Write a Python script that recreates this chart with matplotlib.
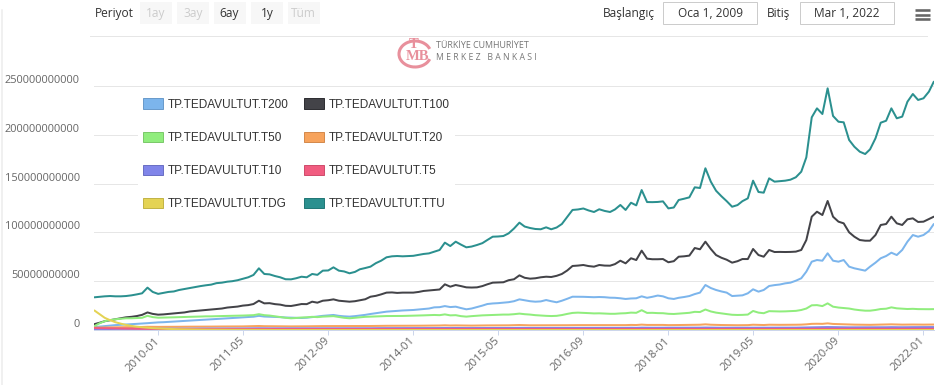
import matplotlib
matplotlib.use('Agg')
import matplotlib.pyplot as plt
from matplotlib.patches import Patch, Rectangle, Arc
from matplotlib.lines import Line2D
from matplotlib.ticker import FuncFormatter
import pandas as pd

# ---------------- data (billions TL, monthly from 2009-01) ----------------
start_month = '2009-01-01'

t200 = [3, 3.5, 4, 4.5, 5, 5.3, 5.6, 6, 6.3, 6.6,
        7, 7.4, 7.8, 8, 8.3, 8.6, 9, 9.3, 9.7, 10,
        10.3, 10.6, 11, 11.3, 11.6, 12, 12.3, 12.6, 13, 13.3,
        13.6, 14.5, 13.8, 13.6, 13.4, 13.2, 12.8, 12.7, 12.5, 12.3,
        12.6, 13.2, 13.8, 14.5, 15, 15.4, 14.5, 14, 13.7, 14.2,
        14.8, 15.5, 16.4, 17.2, 18, 18.8, 19.2, 19.5, 20, 20.2,
        20.5, 21, 21.5, 22, 23.2, 23.4, 24.5, 23.5, 23.9, 22.5,
        21.2, 22, 23.5, 25, 26.6, 27.2, 27.5, 28, 28.5, 29.5,
        31.4, 30.5, 29.5, 29, 29.3, 30.7, 29.5, 28.4, 30, 32,
        34.1, 34.1, 34, 33.8, 33.6, 33.8, 33.6, 33.1, 33, 32.5,
        31.8, 32.3, 32.5, 34.5, 33, 34, 35.3, 34.5, 32.5, 31.8,
        33, 33.8, 34.8, 36.8, 38.3, 46.1, 43, 41, 39.5, 38.3,
        34.8, 35.2, 35.5, 37.6, 41.7, 39.3, 41, 45.1, 46, 46.6,
        47.8, 48.5, 50.5, 53, 59.8, 70, 71.7, 71, 78.6, 71,
        70, 71.7, 64.9, 63.2, 62, 60.8, 64.9, 69, 73.5, 75.8,
        79.2, 76.8, 82, 90.5, 97.3, 95.6, 97.3, 101.4, 108.6]

t100 = [6, 7.5, 9, 10, 11, 12, 13, 13.5, 14.3, 15.5,
        18, 16.5, 15.7, 16, 16.5, 17, 17.5, 18, 19, 19.5,
        20, 20.5, 21, 21.5, 22, 23, 23.5, 24, 25, 25.5,
        26.6, 30, 27.3, 27.5, 26.5, 26, 24.8, 24.6, 25.5, 26.6,
        26.5, 29, 28, 30, 30.5, 31.4, 30, 29.5, 29, 29.5,
        30.5, 31.5, 34.1, 35, 36.5, 38.3, 38.5, 38, 38.3, 38.3,
        38.3, 39, 40, 40.5, 41, 41.5, 46.8, 44.4, 46.1, 45,
        43.7, 43.5, 43.7, 45, 46.8, 48.5, 48.7, 48.9, 51, 52,
        56, 53.5, 52.6, 53, 54, 54.6, 54.3, 55.5, 57.4, 61,
        65.6, 66, 66.6, 65.5, 64.9, 66.6, 66, 65.9, 67.5, 71,
        68.3, 73.5, 71.7, 81.3, 73.1, 72.5, 72.5, 72.7, 69.4, 70.5,
        75.1, 75.5, 76.2, 84, 82.7, 90.5, 83, 76.8, 74, 72,
        69, 70.5, 72.7, 72.7, 83, 76.8, 75.1, 82, 79.9, 80,
        79.9, 80, 80.3, 82, 92.2, 116.1, 121.2, 117.8, 132.2, 116.1,
        111, 109.3, 100.1, 95.6, 92.2, 91.5, 91.5, 97.3, 107.6, 108.6,
        116.1, 109.3, 107.6, 113.4, 114.4, 110.7, 111, 113.7, 116.1]

t50 = [4, 7, 9, 10.2, 11, 11.5, 12, 12, 12.2, 12.5,
       14.5, 13.2, 12.6, 12.7, 12.8, 13, 13.2, 13.4, 13.5, 13.6,
       13.8, 14, 14, 14.2, 14.3, 14.4, 14.5, 14.6, 14.8, 15,
       15.2, 16.2, 15.2, 14.8, 14, 13.2, 12.5, 12, 12.3, 12.8,
       13, 13.5, 13.2, 13.7, 14, 14.2, 13.3, 12.5, 12, 12.5,
       13, 13.5, 13.7, 14, 14.2, 14.3, 14.3, 14.4, 14.4, 14.6,
       14.7, 14.8, 15, 15.2, 15.4, 15.2, 16, 15, 15.2, 14.2,
       13.7, 14.2, 14.6, 15, 15.2, 15.5, 15.6, 15.8, 15.8, 16.2,
       16.8, 16.2, 15.8, 15.2, 14.8, 14.5, 14.3, 14.5, 15.3, 16.5,
       17.5, 17.8, 17.6, 17.3, 17, 17.1, 16.8, 16.6, 16.6, 17,
       17.2, 17.8, 17.6, 20.3, 17.5, 17.6, 17.3, 17.2, 16.6, 16.4,
       16.8, 17.3, 17.6, 18.6, 18.4, 21, 19, 17.8, 17, 16.3,
       15.6, 15.4, 15.5, 15.8, 19.5, 17.8, 17.2, 19.3, 19.1, 19,
       19.1, 19.4, 19.6, 20.5, 22, 25.3, 25.5, 24.5, 27.3, 23.9,
       23, 22.5, 22, 21, 20.3, 19.8, 19.8, 20.5, 21.5, 21.8,
       23.2, 22.2, 21.8, 21.5, 21.7, 21.4, 21.3, 21.3, 21.4]

t20 = [2.4, 2.5, 2.6, 2.7, 2.8, 2.9, 3.0, 3.0, 3.1, 3.1, 3.3, 3.2,
       3.2, 3.2, 3.3, 3.3, 3.3, 3.4, 3.4, 3.4, 3.5, 3.5, 3.5, 3.6,
       3.6, 3.6, 3.7, 3.7, 3.7, 3.8, 3.8, 4.1, 3.9, 3.9, 3.8, 3.8,
       3.7, 3.7, 3.7, 3.8, 3.8, 3.9, 3.9, 4.0, 4.0, 4.1, 4.0, 4.0,
       3.9, 4.0, 4.0, 4.1, 4.1, 4.2, 4.2, 4.3, 4.3, 4.3, 4.3, 4.4,
       4.4, 4.4, 4.5, 4.5, 4.5, 4.6, 4.8, 4.6, 4.7, 4.6, 4.5, 4.5,
       4.6, 4.6, 4.7, 4.7, 4.8, 4.8, 4.8, 4.9, 5.1, 4.9, 4.8, 4.8,
       4.7, 4.7, 4.7, 4.7, 4.8, 4.9, 5.0, 5.0, 5.0, 5.0, 4.9, 5.0,
       5.0, 4.9, 5.0, 5.1, 5.0, 5.2, 5.1, 5.5, 5.2, 5.2, 5.2, 5.2,
       5.0, 5.0, 5.1, 5.2, 5.2, 5.4, 5.4, 5.8, 5.4, 5.2, 5.1, 5.0,
       4.9, 4.9, 5.0, 5.0, 5.4, 5.2, 5.1, 5.4, 5.3, 5.3, 5.3, 5.3,
       5.4, 5.5, 5.8, 6.3, 6.4, 6.3, 6.8, 6.2, 6.0, 5.9, 5.7, 5.5,
       5.4, 5.3, 5.3, 5.4, 5.6, 5.6, 5.8, 5.6, 5.5, 5.6, 5.6, 5.5,
       5.5, 5.5, 5.6]

t10 = [0.8, 0.9, 1.0, 1.0, 1.1, 1.1, 1.2, 1.2, 1.2, 1.3, 1.4, 1.3,
       1.3, 1.3, 1.3, 1.4, 1.4, 1.4, 1.4, 1.5, 1.5, 1.5, 1.5, 1.5,
       1.6, 1.6, 1.6, 1.6, 1.6, 1.7, 1.7, 1.8, 1.7, 1.7, 1.7, 1.7,
       1.6, 1.6, 1.6, 1.7, 1.7, 1.7, 1.7, 1.8, 1.8, 1.8, 1.8, 1.8,
       1.7, 1.8, 1.8, 1.8, 1.8, 1.9, 1.9, 1.9, 1.9, 1.9, 1.9, 1.9,
       1.9, 1.9, 2.0, 2.0, 2.0, 2.0, 2.1, 2.0, 2.1, 2.0, 2.0, 2.0,
       2.0, 2.0, 2.0, 2.1, 2.1, 2.1, 2.1, 2.1, 2.2, 2.1, 2.1, 2.1,
       2.1, 2.1, 2.1, 2.1, 2.1, 2.2, 2.2, 2.2, 2.2, 2.2, 2.2, 2.2,
       2.2, 2.2, 2.2, 2.2, 2.2, 2.3, 2.2, 2.4, 2.3, 2.3, 2.3, 2.3,
       2.2, 2.2, 2.3, 2.3, 2.3, 2.4, 2.4, 2.5, 2.4, 2.3, 2.3, 2.3,
       2.2, 2.2, 2.3, 2.3, 2.4, 2.3, 2.3, 2.4, 2.4, 2.4, 2.4, 2.4,
       2.4, 2.5, 2.6, 2.8, 2.9, 2.9, 3.0, 2.9, 2.8, 2.8, 2.7, 2.7,
       2.6, 2.6, 2.6, 2.7, 2.8, 2.8, 2.9, 2.8, 2.8, 2.9, 2.9, 2.9,
       2.9, 2.9, 3.0]

t5 = [2.0, 1.9, 1.8, 1.7, 1.6, 1.5, 1.4, 1.3, 1.3, 1.2, 1.2, 1.1,
      1.1, 1.0, 1.0, 1.0, 0.9, 0.9, 0.9, 0.9, 0.9, 0.9, 0.9, 0.9,
      0.9, 0.9, 0.9, 0.9, 0.9, 0.9, 0.9, 1.0, 0.9, 0.9, 0.9, 0.9,
      0.9, 0.9, 0.9, 0.9, 0.9, 0.9, 0.9, 0.9, 0.9, 1.0, 0.9, 0.9,
      0.9, 0.9, 0.9, 0.9, 0.9, 0.9, 0.9, 0.9, 0.9, 0.9, 0.9, 0.9,
      0.9, 0.9, 0.9, 0.9, 0.9, 0.9, 1.0, 0.9, 0.9, 0.9, 0.9, 0.9,
      0.9, 0.9, 0.9, 0.9, 0.9, 0.9, 0.9, 0.9, 1.0, 0.9, 0.9, 0.9,
      0.9, 0.9, 0.9, 0.9, 0.9, 0.9, 0.9, 0.9, 0.9, 0.9, 0.9, 0.9,
      0.9, 0.9, 0.9, 0.9, 0.9, 0.9, 0.9, 1.0, 0.9, 0.9, 0.9, 0.9,
      0.9, 0.9, 0.9, 0.9, 0.9, 0.9, 0.9, 1.0, 0.9, 0.9, 0.9, 0.9,
      0.9, 0.9, 0.9, 0.9, 1.0, 0.9, 0.9, 1.0, 1.0, 1.0, 1.0, 1.0,
      1.0, 1.0, 1.1, 1.2, 1.2, 1.2, 1.3, 1.2, 1.2, 1.2, 1.1, 1.1,
      1.1, 1.1, 1.1, 1.1, 1.2, 1.2, 1.2, 1.2, 1.2, 1.2, 1.2, 1.2,
      1.2, 1.2, 1.2]

tdg = [20.0, 16.0, 12.5, 10.0, 8.0, 6.5, 5.2, 4.2, 3.4, 2.8, 2.3, 1.9,
       1.6, 1.3, 1.1, 0.9, 0.8, 0.7, 0.6, 0.5, 0.5, 0.4, 0.4, 0.3,
       0.3, 0.2, 0.2, 0.2, 0.1, 0.1, 0.1, 0.1, 0.1, 0.0, 0.0, 0.0,
       0.0, 0.0, 0.0, 0.0, 0.0, 0.0, 0.0, 0.0, 0.0, 0.0, 0.0, 0.0,
       0.0, 0.0, 0.0, 0.0, 0.0, 0.0, 0.0, 0.0, 0.0, 0.0, 0.0, 0.0,
       0.0, 0.0, 0.0, 0.0, 0.0, 0.0, 0.0, 0.0, 0.0, 0.0, 0.0, 0.0,
       0.0, 0.0, 0.0, 0.0, 0.0, 0.0, 0.0, 0.0, 0.0, 0.0, 0.0, 0.0,
       0.0, 0.0, 0.0, 0.0, 0.0, 0.0, 0.0, 0.0, 0.0, 0.0, 0.0, 0.0,
       0.0, 0.0, 0.0, 0.0, 0.0, 0.0, 0.0, 0.0, 0.0, 0.0, 0.0, 0.0,
       0.0, 0.0, 0.0, 0.0, 0.0, 0.0, 0.0, 0.0, 0.0, 0.0, 0.0, 0.0,
       0.0, 0.0, 0.0, 0.0, 0.0, 0.0, 0.0, 0.0, 0.0, 0.0, 0.0, 0.0,
       0.0, 0.0, 0.0, 0.0, 0.0, 0.0, 0.0, 0.0, 0.0, 0.0, 0.0, 0.0,
       0.0, 0.0, 0.0, 0.0, 0.0, 0.0, 0.0, 0.0, 0.0, 0.0, 0.0, 0.0,
       0.0, 0.0, 0.0]

ttu = [33.5, 34.0, 34.5, 34.8, 34.5, 34.5, 34.8, 35.5, 36.5, 37.6,
       43.4, 39.0, 37.0, 38.0, 39.0, 39.5, 41.0, 42.0, 43.0, 44.0,
       45.0, 45.8, 46.5, 48.0, 48.5, 49.5, 50.0, 51.0, 52.5, 54.0,
       56.4, 63.2, 57.4, 57.0, 55.3, 54.0, 52.0, 51.9, 53.0, 54.6,
       54.0, 57.4, 56.5, 60.8, 61.0, 64.2, 60.8, 60.0, 58.1, 59.5,
       62.2, 63.5, 64.9, 68.5, 71.0, 74.5, 75.5, 75.8, 75.5, 75.8,
       76.0, 77.0, 77.9, 78.5, 80.2, 82.0, 89.5, 86.0, 90.5, 87.5,
       84.7, 85.5, 87.1, 89.0, 92.2, 95.6, 95.8, 96.3, 99.0, 104.0,
       110.0, 106.0, 104.5, 103.5, 103.2, 105.2, 103.2, 105.0, 108.6, 116.0,
       123.0, 123.5, 124.5, 122.5, 120.9, 123.7, 122.0, 120.9, 123.5, 128.1,
       123.0, 130.4, 127.7, 143.4, 131.1, 131.0, 131.2, 131.8, 124.6, 125.5,
       133.2, 134.5, 135.9, 146.2, 145.5, 165.7, 152.0, 142.7, 137.0, 132.0,
       126.3, 128.0, 132.0, 134.9, 153.0, 141.4, 140.7, 155.4, 152.0, 152.5,
       153.0, 154.0, 156.5, 162.2, 176.9, 217.9, 227.1, 221.3, 247.6, 219.3,
       213.4, 212.8, 194.7, 187.8, 182.7, 180.3, 185.1, 196.4, 212.4, 214.4,
       227.1, 216.9, 218.6, 233.9, 241.8, 235.7, 237.4, 244.2, 254.4]

series_names = ['TP.TEDAVULTUT.T200', 'TP.TEDAVULTUT.T100', 'TP.TEDAVULTUT.T50',
                'TP.TEDAVULTUT.T20', 'TP.TEDAVULTUT.T10', 'TP.TEDAVULTUT.T5',
                'TP.TEDAVULTUT.TDG', 'TP.TEDAVULTUT.TTU']
series_values = [t200, t100, t50, t20, t10, t5, tdg, ttu]
series_colors = ['#7cb5ec', '#434348', '#90ed7d', '#f7a35c',
                 '#8085e9', '#f15c80', '#e4d354', '#2b908f']
legend_edges = ['#6a9bcb', '#2f2f33', '#7cc96b', '#d48a4d',
                '#6b70c4', '#cf4e6d', '#c2b447', '#237877']

xtick_labels = ['2010-01', '2011-05', '2012-09', '2014-01', '2015-05',
                '2016-09', '2018-01', '2019-05', '2020-09', '2022-01']
ytick_values = [0, 50e9, 100e9, 150e9, 200e9, 250e9]

period_buttons = ['1ay', '3ay', '6ay', '1y', 'Tüm']
period_enabled = [False, False, True, True, False]

# ---------------- figure ----------------
W, H = 935, 385
plt.rcParams['font.family'] = ['Open Sans', 'DejaVu Sans']
fig = plt.figure(figsize=(W / 100, H / 100), dpi=100)
fig.patch.set_facecolor('white')

def fx(x):
    return x / W

def fy(y):
    return 1 - y / H

PX = 0.72  # one pixel in points

ax = fig.add_axes([fx(94.4), fy(330), (933.8 - 94.4) / W, 255 / H])
ax.set_facecolor('white')

dates = pd.date_range(start_month, periods=len(ttu), freq='MS')
for name, vals, col in zip(series_names, series_values, series_colors):
    d = dates[:len(vals)]
    ax.plot(d, [v * 1e9 for v in vals], color=col, lw=2 * PX,
            solid_joinstyle='round', solid_capstyle='round', label=name)

ax.set_xlim(dates[0], dates[-1])
ax.set_ylim(0, 250e9 * 255 / 244)

ax.set_yticks(ytick_values)
ax.yaxis.set_major_formatter(FuncFormatter(lambda v, p: f'{int(round(v))}'))
ax.grid(axis='y', color='#e6e6e6', lw=PX)
ax.set_axisbelow(True)
ax.tick_params(axis='y', length=0, pad=10.4, labelsize=7.9, labelcolor='#666666')
for lab in ax.get_yticklabels():
    lab.set_verticalalignment('bottom')

xt = [pd.Timestamp(s + '-01') for s in xtick_labels]
ax.set_xticks(xt)
ax.set_xticklabels(xtick_labels)
ax.tick_params(axis='x', length=5 * PX, width=PX, color='#ccd6eb',
               labelsize=8.2, labelcolor='#666666', pad=3)
for lab in ax.get_xticklabels():
    lab.set_rotation(45)
    lab.set_ha('right')
    lab.set_va('center')
    lab.set_rotation_mode('anchor')

for s in ['top', 'right', 'left']:
    ax.spines[s].set_visible(False)
ax.spines['bottom'].set_color('#ccd6eb')
ax.spines['bottom'].set_linewidth(PX)

# legend (two columns filled row by row, boxed swatches)
handles = [Patch(facecolor=c, edgecolor=e, linewidth=PX)
           for c, e in zip(series_colors, legend_edges)]
order = [0, 2, 4, 6, 1, 3, 5, 7]
leg = ax.legend([handles[i] for i in order], [series_names[i] for i in order],
                ncol=2, loc='upper left',
                bbox_to_anchor=(fx(138), fy(93.5)), bbox_transform=fig.transFigure,
                frameon=True, fancybox=False, framealpha=1, edgecolor='none',
                facecolor='white', borderpad=0.42, borderaxespad=0,
                handlelength=1.69, handleheight=1.02, handletextpad=0.42,
                columnspacing=1.27, labelspacing=1.75,
                prop={'family': ['Liberation Sans', 'DejaVu Sans'], 'size': 8.5})
for t in leg.get_texts():
    t.set_color('#333333')

# ---------------- toolbar ----------------
fig.text(fx(95), fy(13.5), 'Periyot', fontsize=8.6, color='#333333',
         ha='left', va='center')
bx = [140, 177, 213.5, 251, 287.5]
for x0, lab, en in zip(bx, period_buttons, period_enabled):
    fig.patches.append(Rectangle((fx(x0), fy(24)), 32 / W, 22 / H,
                                 transform=fig.transFigure, facecolor='#f7f7f7',
                                 edgecolor='none'))
    fig.text(fx(x0 + 16), fy(13.5), lab, fontsize=8.6,
             color='#333333' if en else '#cccccc', ha='center', va='center')

fig.text(fx(603), fy(13.5), 'Başlangıç', fontsize=8.6, color='#333333',
         ha='left', va='center')
fig.text(fx(767), fy(13.5), 'Bitiş', fontsize=8.6, color='#333333',
         ha='left', va='center')
for x0, x1, txt in [(663, 757, 'Oca 1, 2009'), (800, 894, 'Mar 1, 2022')]:
    fig.patches.append(Rectangle((fx(x0), fy(23.5)), (x1 - x0) / W, 21 / H,
                                 transform=fig.transFigure, facecolor='white',
                                 edgecolor='#cccccc', linewidth=PX))
    fig.text(fx((x0 + x1) / 2), fy(13.5), txt, fontsize=8.6, color='#333333',
             ha='center', va='center')

for yy in [10, 14.5, 19]:
    fig.lines.append(Line2D([fx(915), fx(930)], [fy(yy), fy(yy)],
                            transform=fig.transFigure, color='#666666',
                            lw=2.6 * PX, solid_capstyle='butt'))

fig.lines.append(Line2D([fx(90), fx(927)], [fy(36), fy(36)],
                        transform=fig.transFigure, color='#e6e6e6', lw=PX))
fig.lines.append(Line2D([fx(2), fx(2)], [fy(10), fy(385)],
                        transform=fig.transFigure, color='#ececec', lw=1.5 * PX))

# ---------------- logo ----------------
logo_col = '#e8909c'
fig.patches.append(Arc((fx(415), fy(54)), 32 / W, 26 / H, theta1=40, theta2=320,
                       transform=fig.transFigure, color=logo_col, lw=2.2))
fig.text(fx(417), fy(56.5), 'MB', fontsize=10.5, color=logo_col,
         fontweight='bold', ha='center', va='center',
         family=['Liberation Serif', 'DejaVu Serif'])
fig.text(fx(414), fy(44), 'T', fontsize=10.5, color=logo_col,
         fontweight='bold', ha='center', va='center',
         family=['Liberation Serif', 'DejaVu Serif'])
fig.text(fx(436), fy(45), 'TÜRKİYE CUMHURİYET', fontsize=6.4, color='#777777',
         ha='left', va='center', family=['Open Sans', 'DejaVu Sans'])
fig.text(fx(436), fy(57.5), 'M E R K E Z   B A N K A S I', fontsize=6.2,
         color='#777777', ha='left', va='center', family=['Open Sans', 'DejaVu Sans'])

fig.savefig('out.png', dpi=100, facecolor='white')
